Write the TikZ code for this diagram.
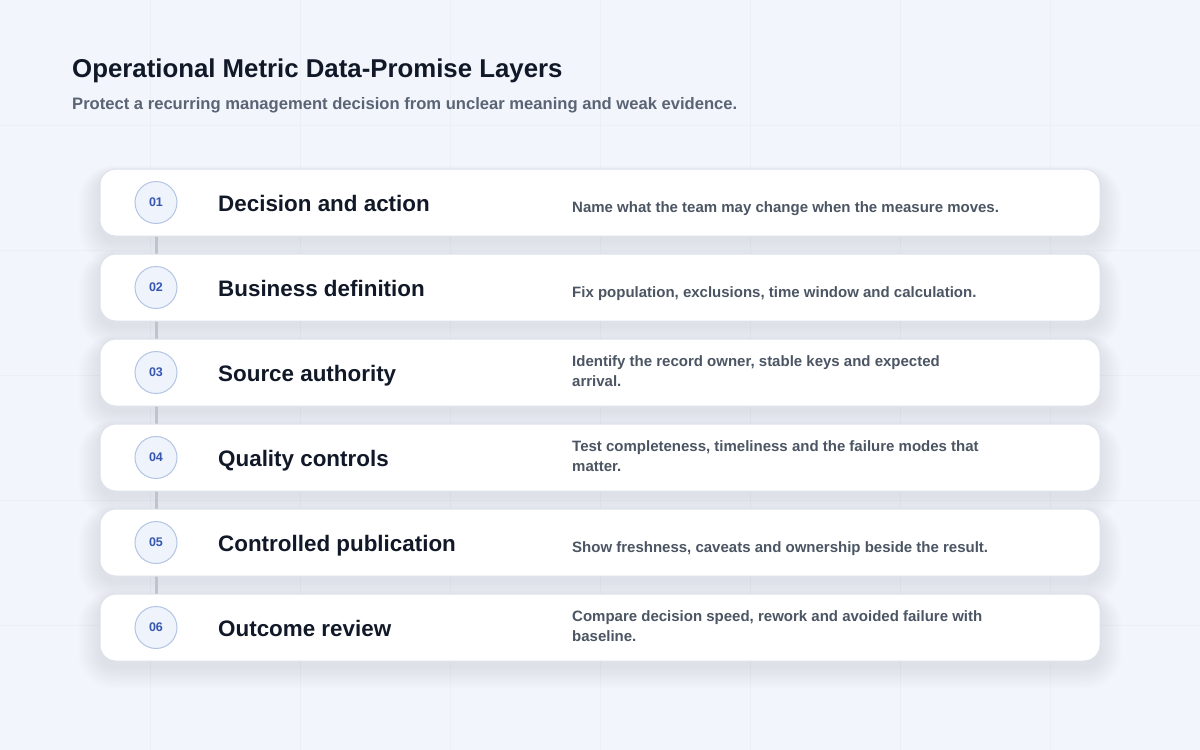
\documentclass[tikz,border=0pt]{standalone}
\usepackage{fontspec}
\setmainfont{Liberation Sans}
\definecolor{bgc}{HTML}{F2F5FC}
\definecolor{gridc}{HTML}{EBEFF6}
\definecolor{titlec}{HTML}{111827}
\definecolor{subc}{HTML}{5B6474}
\definecolor{descc}{HTML}{4B5563}
\definecolor{cardb}{HTML}{DCE2EC}
\definecolor{circf}{HTML}{EEF3FC}
\definecolor{circb}{HTML}{B4C4E4}
\definecolor{numc}{HTML}{3656B0}
\definecolor{linec}{HTML}{BFC3CB}
\definecolor{shadowc}{HTML}{2A3A5C}
\pgfdeclarelayer{backlayer}
\pgfdeclarelayer{linelayer}
\pgfsetlayers{backlayer,linelayer,main}
\tikzset{
  card/.style={draw=cardb, line width=1pt, fill=white, rounded corners=16pt,
    minimum width=1000pt, minimum height=67pt, inner sep=0pt},
  numcirc/.style={circle, draw=circb, line width=1pt, fill=circf, minimum size=42pt,
    inner sep=0pt, text=numc, font=\bfseries\fontsize{12.5}{14}\selectfont},
  laytitle/.style={anchor=base west, inner sep=0pt, text=titlec,
    font=\bfseries\fontsize{22.4}{26}\selectfont},
  laydesc/.style={anchor=base west, inner sep=0pt, text=descc, align=left,
    font=\bfseries\fontsize{15}{20}\selectfont},
  link/.style={draw=linec, line width=3pt}
}
\newcommand\layerrow[5]{%
  % #1 index, #2 centre y, #3 label, #4 description, #5 offset of last description baseline
  \begin{pgfonlayer}{backlayer}
    \foreach \k in {1,...,20}{
      \fill[shadowc, opacity=0.0052, rounded corners=16pt+\k pt]
        (100-\k*1.1, #2-33.5+6-\k*0.5) rectangle (1100+\k*1.1, #2+33.5+6+\k*1.1);
    }
  \end{pgfonlayer}
  \node[card] (card#1) at (600,#2) {};
  \node[numcirc] (circ#1) at (156,#2) {0#1};
  \node[laytitle] (lab#1) at (218,#2+9) {#3};
  \node[laydesc] (desc#1) at (572,#2+#5) {#4};
}
\begin{document}
\begin{tikzpicture}[x=1pt,y=-1pt]
\useasboundingbox (0,0) rectangle (1200,750);
\begin{pgfonlayer}{backlayer}
  \fill[bgc] (0,0) rectangle (1200,750);
  \foreach \x in {150,300,...,1050} \draw[gridc, line width=1pt] (\x,0) -- (\x,750);
  \foreach \y in {125,250,...,625} \draw[gridc, line width=1pt] (0,\y) -- (1200,\y);
\end{pgfonlayer}

\node[anchor=base west, inner sep=0pt, text=titlec, font=\bfseries\fontsize{25.8}{30}\selectfont]
  (title) at (72,77) {Operational Metric Data-Promise Layers};
\node[anchor=base west, inner sep=0pt, text=subc, font=\bfseries\fontsize{16.6}{20}\selectfont]
  (subtitle) at (72,109) {Protect a recurring management decision from unclear meaning and weak evidence.};

\layerrow{1}{202.5}{Decision and action}{Name what the team may change when the measure moves.}{9.5}
\layerrow{2}{287.5}{Business definition}{Fix population, exclusions, time window and calculation.}{9.5}
\layerrow{3}{372.5}{Source authority}{Identify the record owner, stable keys and expected\\arrival.}{13.5}
\layerrow{4}{457.5}{Quality controls}{Test completeness, timeliness and the failure modes that\\matter.}{13.5}
\layerrow{5}{542.5}{Controlled publication}{Show freshness, caveats and ownership beside the result.}{9.5}
\layerrow{6}{627.5}{Outcome review}{Compare decision speed, rework and avoided failure with\\baseline.}{13.5}

\begin{pgfonlayer}{linelayer}
  \foreach \i [evaluate=\i as \j using int(\i+1)] in {1,...,5}
    \draw[link] (circ\i.south) -- (circ\j.north);
\end{pgfonlayer}
\end{tikzpicture}
\end{document}
